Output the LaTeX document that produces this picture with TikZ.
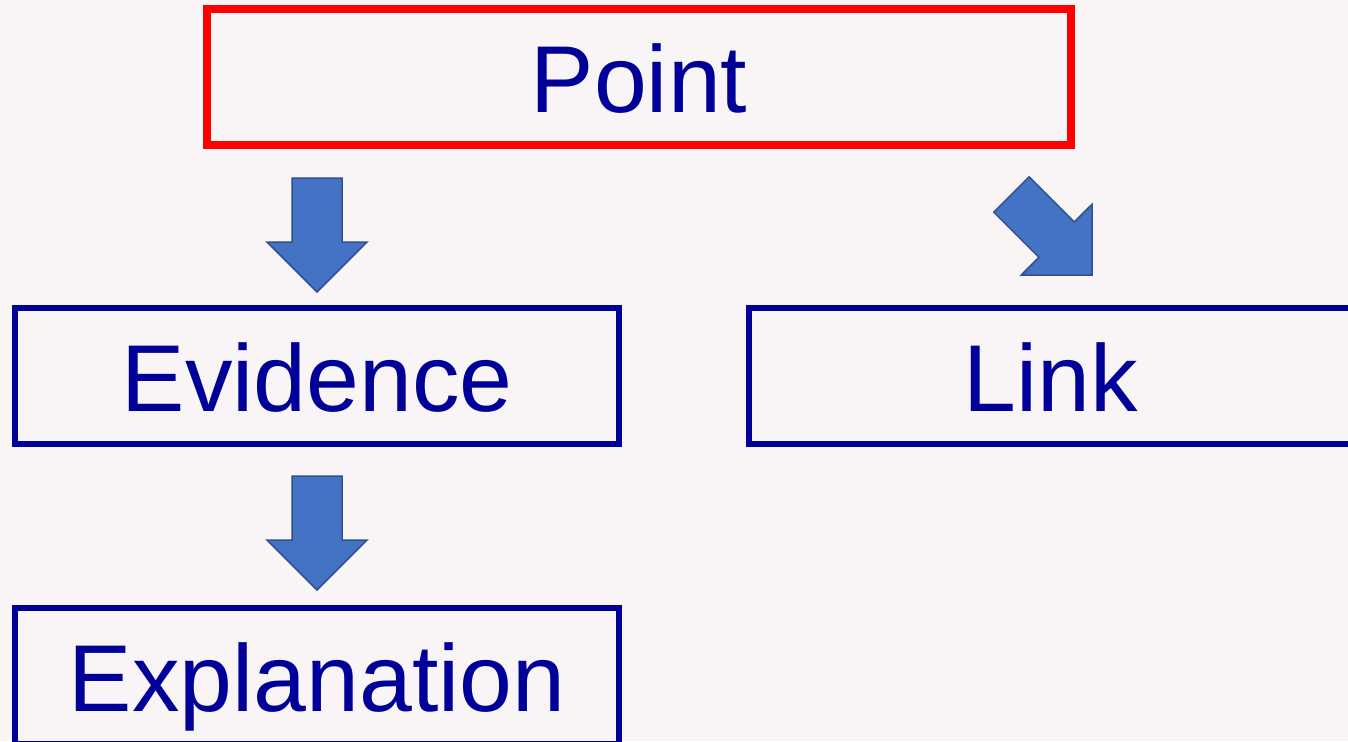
\documentclass[tikz,border=0pt]{standalone}
\usepackage{fontspec}
\setmainfont{Liberation Sans}

\definecolor{bgpink}{RGB}{249,245,247}
\definecolor{boxblue}{RGB}{0,0,153}
\definecolor{arrfill}{RGB}{68,114,196}
\definecolor{arrdraw}{RGB}{47,82,143}

\tikzset{
    peelbox/.style={draw=boxblue, line width=6pt, rectangle, inner sep=0pt,
        minimum height=135.5pt, text=boxblue, text height=70pt, text depth=0pt,
        font=\fontsize{95}{110}\selectfont},
    blockarrow/.style={fill=arrfill, draw=arrdraw, line width=1.5pt, line join=miter}
}

\begin{document}
\begin{tikzpicture}[x=1pt,y=-1pt]
\useasboundingbox (0,0) rectangle (1348,741);
\fill[bgpink] (0,0) rectangle (1348,741);
\clip (0,0) rectangle (1348,741);

\node[peelbox, draw=red, line width=8pt, minimum width=864pt, minimum height=135.7pt] (point) at (639,77.2) {Point};
\node[peelbox, minimum width=603.7pt] (evidence) at (317.2,376.2) {Evidence};
\node[peelbox, minimum width=604pt] (link) at (1051,376.2) {Link};
\node[peelbox, minimum width=603.7pt] (explanation) at (317.2,676) {Explanation};

% down arrows
\foreach \t in {178,476} {
    \draw[blockarrow] (292,\t) -- ++(50,0) -- ++(0,64) -- ++(25,0) -- ++(-50,50)
        -- ++(-50,-50) -- ++(25,0) -- cycle;
}

% arrow to link
\draw[blockarrow] (1029.1,176.7) -- (1074.3,221.9) -- (1092,204.3) -- (1092,275)
    -- (1021.3,275) -- (1038.9,257.3) -- (993.7,212.1) -- cycle;
\end{tikzpicture}
\end{document}
